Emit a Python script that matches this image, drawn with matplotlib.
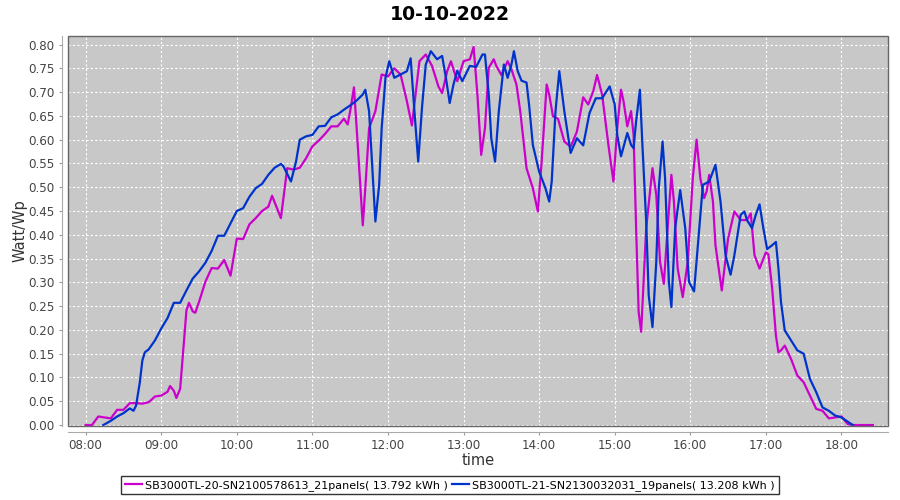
import pandas as pd
import matplotlib
matplotlib.use("Agg")
import matplotlib.pyplot as plt
import matplotlib.dates as mdates
from matplotlib.patches import Rectangle

day = "2022-10-10"

# SB3000TL-20 (magenta)
m_times = ["08:00", "08:05", "08:10", "08:15", "08:20", "08:25", "08:30", "08:35", "08:40", "08:45",
           "08:50", "08:55", "09:00", "09:05", "09:07", "09:10", "09:12", "09:15", "09:20", "09:22",
           "09:25", "09:27", "09:30", "09:35", "09:40", "09:45", "09:50", "09:55", "10:00", "10:05",
           "10:10", "10:15", "10:20", "10:25", "10:28", "10:35", "10:40", "10:45", "10:50", "10:55",
           "11:00", "11:05", "11:10", "11:15", "11:20", "11:25", "11:28", "11:30", "11:33", "11:36",
           "11:40", "11:42", "11:45", "11:50", "11:55", "12:00", "12:05", "12:10", "12:15", "12:19",
           "12:25", "12:30", "12:35", "12:40", "12:43", "12:47", "12:50", "12:55", "13:00", "13:05",
           "13:08", "13:11", "13:14", "13:17", "13:20", "13:24", "13:26", "13:30", "13:35", "13:38",
           "13:42", "13:45", "13:50", "13:55", "13:59", "14:02", "14:06", "14:08", "14:11", "14:15",
           "14:20", "14:25", "14:30", "14:35", "14:39", "14:43", "14:46", "14:50", "14:55", "14:59",
           "15:02", "15:05", "15:07", "15:10", "15:13", "15:15", "15:17", "15:19", "15:21", "15:25",
           "15:30", "15:33", "15:36", "15:39", "15:42", "15:45", "15:47", "15:50", "15:54", "15:58",
           "16:02", "16:05", "16:08", "16:11", "16:13", "16:15", "16:18", "16:20", "16:25", "16:30",
           "16:35", "16:40", "16:45", "16:48", "16:51", "16:55", "17:00", "17:02", "17:05", "17:08",
           "17:10", "17:12", "17:15", "17:20", "17:25", "17:30", "17:35", "17:40", "17:45", "17:50",
           "17:55", "18:00", "18:05", "18:10", "18:15", "18:20", "18:25"]
m_vals = [0.0, 0.0, 0.018, 0.016, 0.014, 0.032, 0.032, 0.046, 0.046, 0.045,
          0.048, 0.060, 0.062, 0.070, 0.082, 0.072, 0.057, 0.076, 0.241, 0.257,
          0.239, 0.236, 0.259, 0.301, 0.330, 0.329, 0.347, 0.314, 0.392, 0.391,
          0.422, 0.435, 0.450, 0.459, 0.482, 0.435, 0.540, 0.537, 0.541, 0.561,
          0.586, 0.598, 0.612, 0.628, 0.628, 0.644, 0.632, 0.660, 0.710, 0.589,
          0.420, 0.498, 0.624, 0.660, 0.737, 0.733, 0.750, 0.737, 0.681, 0.630,
          0.765, 0.779, 0.755, 0.712, 0.698, 0.744, 0.765, 0.723, 0.765, 0.769,
          0.795, 0.695, 0.568, 0.624, 0.751, 0.769, 0.755, 0.736, 0.765, 0.748,
          0.716, 0.660, 0.540, 0.498, 0.449, 0.554, 0.716, 0.695, 0.649, 0.644,
          0.596, 0.585, 0.617, 0.689, 0.674, 0.702, 0.736, 0.695, 0.589, 0.512,
          0.624, 0.705, 0.681, 0.628, 0.660, 0.610, 0.414, 0.238, 0.196, 0.414,
          0.540, 0.484, 0.343, 0.297, 0.414, 0.526, 0.470, 0.329, 0.269, 0.343,
          0.519, 0.600, 0.519, 0.477, 0.491, 0.526, 0.470, 0.378, 0.283, 0.392,
          0.449, 0.431, 0.431, 0.445, 0.357, 0.329, 0.363, 0.359, 0.288, 0.188,
          0.153, 0.157, 0.167, 0.139, 0.104, 0.090, 0.062, 0.034, 0.030, 0.014,
          0.016, 0.018, 0.002, 0.0, 0.0, 0.0, 0.0]

# SB3000TL-21 (blue)
b_times = ["08:14", "08:20", "08:25", "08:30", "08:35", "08:38", "08:40", "08:43", "08:45", "08:47",
           "08:50", "08:55", "09:00", "09:05", "09:10", "09:15", "09:20", "09:25", "09:30", "09:35",
           "09:40", "09:45", "09:50", "09:55", "10:00", "10:05", "10:10", "10:15", "10:20", "10:25",
           "10:30", "10:35", "10:37", "10:43", "10:47", "10:50", "10:55", "11:00", "11:05", "11:10",
           "11:15", "11:20", "11:25", "11:30", "11:35", "11:40", "11:42", "11:45", "11:48", "11:50",
           "11:53", "11:55", "11:58", "12:01", "12:05", "12:10", "12:15", "12:18", "12:21", "12:24",
           "12:27", "12:30", "12:34", "12:39", "12:43", "12:46", "12:49", "12:52", "12:55", "12:59",
           "13:05", "13:10", "13:15", "13:17", "13:20", "13:22", "13:25", "13:28", "13:32", "13:35",
           "13:38", "13:40", "13:43", "13:46", "13:50", "13:52", "13:55", "14:00", "14:05", "14:08",
           "14:10", "14:13", "14:16", "14:20", "14:25", "14:30", "14:35", "14:40", "14:45", "14:50",
           "14:56", "15:00", "15:02", "15:05", "15:10", "15:13", "15:15", "15:17", "15:20", "15:22",
           "15:25", "15:27", "15:30", "15:33", "15:35", "15:38", "15:40", "15:43", "15:45", "15:48",
           "15:52", "15:56", "15:59", "16:03", "16:06", "16:10", "16:15", "16:20", "16:24", "16:28",
           "16:32", "16:35", "16:40", "16:43", "16:45", "16:49", "16:52", "16:55", "16:58", "17:01",
           "17:05", "17:08", "17:10", "17:12", "17:15", "17:20", "17:25", "17:30", "17:35", "17:40",
           "17:45", "17:50", "17:55", "18:00", "18:05", "18:09"]
b_vals = [0.0, 0.009, 0.018, 0.025, 0.035, 0.030, 0.041, 0.090, 0.136, 0.153,
          0.159, 0.178, 0.203, 0.225, 0.257, 0.257, 0.283, 0.308, 0.323, 0.341,
          0.366, 0.398, 0.398, 0.424, 0.450, 0.456, 0.480, 0.498, 0.507, 0.526,
          0.541, 0.549, 0.544, 0.512, 0.554, 0.600, 0.607, 0.610, 0.628, 0.629,
          0.647, 0.653, 0.663, 0.672, 0.682, 0.695, 0.705, 0.660, 0.519, 0.428,
          0.505, 0.624, 0.730, 0.765, 0.730, 0.737, 0.744, 0.771, 0.660, 0.554,
          0.667, 0.758, 0.786, 0.769, 0.776, 0.730, 0.677, 0.716, 0.745, 0.723,
          0.755, 0.753, 0.779, 0.779, 0.695, 0.603, 0.554, 0.660, 0.758, 0.730,
          0.758, 0.786, 0.744, 0.724, 0.720, 0.674, 0.589, 0.533, 0.498, 0.470,
          0.512, 0.660, 0.744, 0.660, 0.572, 0.603, 0.588, 0.656, 0.687, 0.687,
          0.712, 0.674, 0.610, 0.565, 0.614, 0.589, 0.582, 0.639, 0.705, 0.589,
          0.428, 0.273, 0.206, 0.343, 0.498, 0.596, 0.519, 0.301, 0.248, 0.414,
          0.494, 0.414, 0.301, 0.281, 0.378, 0.505, 0.512, 0.547, 0.470, 0.357,
          0.316, 0.357, 0.442, 0.449, 0.431, 0.414, 0.442, 0.464, 0.414, 0.370,
          0.378, 0.385, 0.329, 0.259, 0.199, 0.178, 0.157, 0.150, 0.097, 0.069,
          0.037, 0.030, 0.020, 0.016, 0.007, 0.0]

m_label = "SB3000TL-20-SN2100578613_21panels( 13.792 kWh )"
b_label = "SB3000TL-21-SN2130032031_19panels( 13.208 kWh )"

m_t = pd.to_datetime([f"{day} {t}" for t in m_times])
b_t = pd.to_datetime([f"{day} {t}" for t in b_times])

fig = plt.figure(figsize=(9, 5), dpi=100)
ax = fig.add_axes([0.0756, 0.148, 0.9111, 0.781])
ax.set_facecolor("#c8c8c8")

ax.plot(m_t, m_vals, color="#cc00cc", lw=1.6, label=m_label, solid_joinstyle="round")
ax.plot(b_t, b_vals, color="#0033cc", lw=1.6, label=b_label, solid_joinstyle="round")

ax.set_xlim(pd.Timestamp(f"{day} 07:46"), pd.Timestamp(f"{day} 18:37"))
ax.set_ylim(-0.002, 0.819)
ax.set_yticks([i * 0.05 for i in range(17)])
ax.yaxis.set_major_formatter(plt.FormatStrFormatter("%.2f"))
ax.xaxis.set_major_locator(mdates.HourLocator())
ax.xaxis.set_major_formatter(mdates.DateFormatter("%H:%M"))

ax.grid(True, color="white", ls=(0, (2, 2)), lw=0.8)
ax.set_axisbelow(True)
ax.tick_params(labelsize=8.6, colors="#999999", length=2, width=0.8, labelcolor="#444444")

for side in ["top", "right"]:
    ax.spines[side].set_visible(False)
for side in ["left", "bottom"]:
    ax.spines[side].set_position(("outward", 4))
    ax.spines[side].set_color("#aaaaaa")
ax.add_patch(Rectangle((0, 0), 1, 1, transform=ax.transAxes, fill=False,
                       ec="#666666", lw=1, zorder=5, clip_on=False))

fig.text(0.5, 0.972, "10-10-2022", ha="center", va="center", fontsize=13.6, fontweight="bold")
ax.set_xlabel("time", fontsize=10.5, color="#333333", labelpad=0.5)
ax.set_ylabel("Watt/Wp", fontsize=10.5, color="#333333", labelpad=0.5)

leg = fig.legend(loc="lower center", bbox_to_anchor=(0.5, 0.0), ncol=2, fontsize=8,
                 frameon=True, fancybox=False, edgecolor="black", handlelength=1.5,
                 handletextpad=0.3, columnspacing=0.4, borderpad=0.35)
leg.get_frame().set_linewidth(1)

fig.savefig("out.png", dpi=100)
